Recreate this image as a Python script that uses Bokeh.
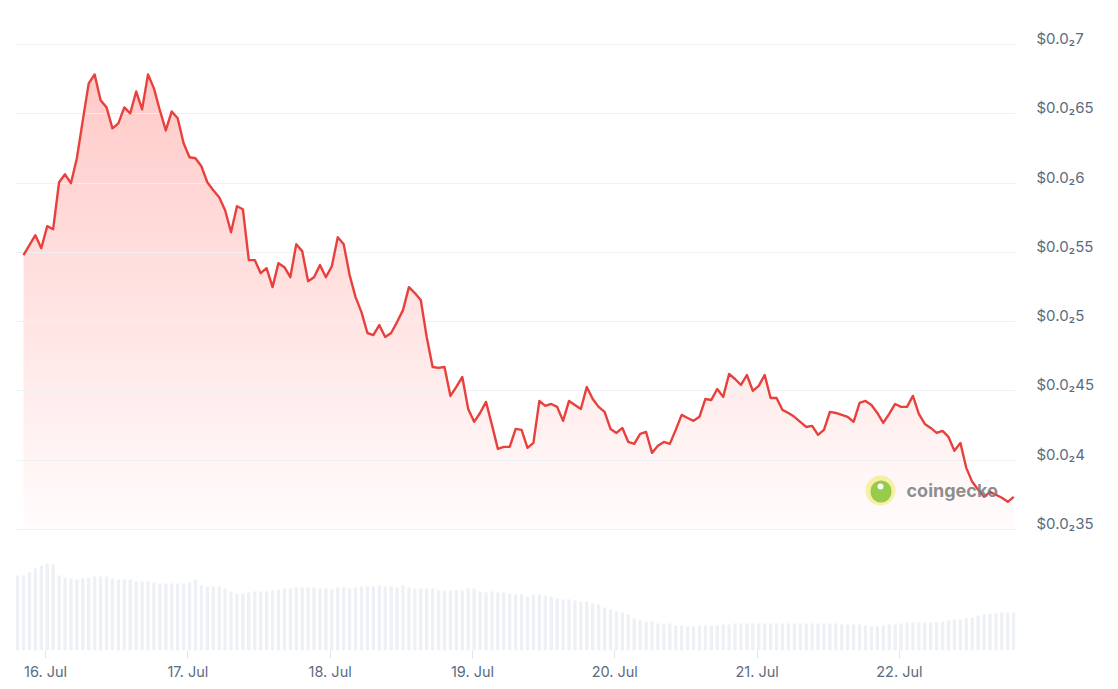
import numpy as np
from datetime import datetime
from bokeh.plotting import figure
from bokeh.models import Range1d, FixedTicker, Label, BoxAnnotation
from bokeh.embed import file_html
from bokeh.resources import INLINE

# ---------------- data ----------------
START = datetime(2024, 7, 15, 20, 17)   # first hourly price point

prices = [
    0.005480, 0.005552, 0.005624, 0.005530, 0.005689, 0.005667, 0.006006, 0.006063, 0.005999, 0.006179,
    0.006452, 0.006719, 0.006784, 0.006597, 0.006546, 0.006395, 0.006431, 0.006546, 0.006503, 0.006661,
    0.006532, 0.006784, 0.006683, 0.006524, 0.006380, 0.006517, 0.006467, 0.006287, 0.006186, 0.006179,
    0.006121, 0.006006, 0.005948, 0.005898, 0.005804, 0.005645, 0.005833, 0.005811, 0.005444, 0.005444,
    0.005350, 0.005386, 0.005249, 0.005422, 0.005393, 0.005321, 0.005559, 0.005509, 0.005292, 0.005321,
    0.005408, 0.005321, 0.005400, 0.005609, 0.005559, 0.005336, 0.005177, 0.005069, 0.004918, 0.004903,
    0.004975, 0.004889, 0.004918, 0.004997, 0.005083, 0.005249, 0.005206, 0.005156, 0.004889, 0.004673,
    0.004666, 0.004673, 0.004464, 0.004529, 0.004601, 0.004370, 0.004277, 0.004341, 0.004421, 0.004255,
    0.004082, 0.004096, 0.004096, 0.004226, 0.004219, 0.004089, 0.004125, 0.004428, 0.004392, 0.004406,
    0.004385, 0.004284, 0.004428, 0.004399, 0.004370, 0.004529, 0.004442, 0.004385, 0.004349, 0.004226,
    0.004197, 0.004233, 0.004132, 0.004118, 0.004190, 0.004204, 0.004053, 0.004104, 0.004132, 0.004118,
    0.004219, 0.004327, 0.004305, 0.004284, 0.004313, 0.004442, 0.004435, 0.004514, 0.004457, 0.004622,
    0.004586, 0.004543, 0.004615, 0.004500, 0.004536, 0.004615, 0.004449, 0.004449, 0.004363, 0.004341,
    0.004313, 0.004277, 0.004240, 0.004248, 0.004183, 0.004219, 0.004349, 0.004341, 0.004327, 0.004313,
    0.004277, 0.004413, 0.004428, 0.004399, 0.004341, 0.004269, 0.004334, 0.004406, 0.004385, 0.004385,
    0.004464, 0.004334, 0.004262, 0.004233, 0.004197, 0.004212, 0.004168, 0.004068, 0.004125, 0.003945,
    0.003844, 0.003787, 0.003736, 0.003772, 0.003751, 0.003729, 0.003700, 0.003736,
]

# hourly volume (relative units), first bar one hour before the first price point
volumes = [
    750, 750, 780, 820, 850, 870, 860, 750, 730, 720, 710,
    720, 730, 740, 740, 740, 720, 710, 710, 710, 690,
    690, 690, 680, 670, 670, 670, 670, 670, 680, 710,
    650, 640, 640, 640, 620, 590, 570, 570, 580, 590,
    590, 590, 600, 610, 620, 620, 630, 630, 630, 630,
    620, 620, 610, 630, 630, 620, 630, 640, 640, 640,
    650, 640, 640, 630, 650, 630, 620, 620, 620, 620,
    600, 600, 600, 600, 600, 620, 620, 590, 580, 590,
    580, 580, 570, 560, 560, 540, 560, 560, 550, 540,
    520, 510, 510, 500, 490, 490, 470, 460, 430, 410,
    390, 380, 360, 320, 300, 290, 290, 270, 260, 270,
    250, 250, 240, 240, 250, 250, 250, 250, 260, 260,
    270, 270, 270, 270, 270, 270, 270, 270, 270, 270,
    270, 270, 270, 270, 270, 270, 270, 270, 260, 260,
    260, 260, 250, 240, 240, 250, 260, 260, 270, 280,
    280, 280, 280, 280, 280, 290, 300, 310, 310, 320,
    330, 350, 360, 370, 370, 380, 380, 380,
]

x_tick_days = [datetime(2024, 7, d) for d in range(16, 23)]
x_tick_labels = ["16. Jul", "17. Jul", "18. Jul", "19. Jul", "20. Jul", "21. Jul", "22. Jul"]

y_ticks = [0.0035, 0.004, 0.0045, 0.005, 0.0055, 0.006, 0.0065, 0.007]
y_tick_labels = ["$0.0\u208235", "$0.0\u20824", "$0.0\u208245", "$0.0\u20825",
                 "$0.0\u208255", "$0.0\u20826", "$0.0\u208265", "$0.0\u20827"]

# ---------------- helpers ----------------
EPOCH = datetime(1970, 1, 1)
HOUR = 3600000.0


def ms(t):
    return (t - EPOCH).total_seconds() * 1000.0


t_price = [ms(START) + i * HOUR for i in range(len(prices))]
t_vol = [ms(START) + (i - 1) * HOUR for i in range(len(volumes))]

Y_MIN, Y_MAX = 0.002627, 0.007173
FRAME_H = 630
FONT = "Inter"
LABEL_COLOR = "#5c6b80"

p = figure(
    frame_width=1000, frame_height=FRAME_H,
    x_axis_type="datetime", y_axis_location="right",
    x_range=Range1d(ms(START) - 1.35 * HOUR, ms(START) + 167.3 * HOUR),
    y_range=Range1d(Y_MIN, Y_MAX),
    output_backend="svg", toolbar_location=None,
    min_border_left=15, min_border_top=20, min_border_right=5, min_border_bottom=4,
    background_fill_color="white", border_fill_color="white",
    outline_line_color=None,
)
# label range: same scale as the price range, shifted so labels sit ~6px above their gridlines
shift = 6 * (Y_MAX - Y_MIN) / FRAME_H
p.extra_y_ranges = {"vol": Range1d(0, 6300),
                    "lab": Range1d(Y_MIN - shift, Y_MAX - shift)}

# gradient fill under the line: gradient image, masked above the line with white
N = 300
alpha = np.linspace(0.015, 0.27, N)  # bottom -> top
img = np.zeros((N, 1), dtype=np.uint32)
view = img.view(dtype=np.uint8).reshape((N, 1, 4))
view[:, 0, 0] = 255
view[:, 0, 1] = np.round(255 - alpha * (255 - 58)).astype(np.uint8)
view[:, 0, 2] = np.round(255 - alpha * (255 - 51)).astype(np.uint8)
view[:, 0, 3] = 255
base = y_ticks[0]
p.image_rgba(image=[img], x=t_price[0], y=base, dw=t_price[-1] - t_price[0],
             dh=max(prices) - base, level="image")
mask_x = t_price + [t_price[-1], t_price[0]]
mask_y = prices + [Y_MAX, Y_MAX]
p.patch(mask_x, mask_y, fill_color="white", line_color="white", line_width=1.6,
        level="image")

# volume bars
p.vbar(x=t_vol, top=volumes, bottom=0, width=0.55 * HOUR, y_range_name="vol",
       fill_color="#edf0f4", line_color=None)

# price line
p.line(t_price, prices, line_color="#e8403c", line_width=2.4, line_join="round")

# grids
p.xgrid.visible = False
p.ygrid.ticker = FixedTicker(ticks=y_ticks)
p.ygrid.grid_line_color = "#eef1f4"
p.ygrid.grid_line_width = 1

# y axis (right), on the shifted label range
ya = p.yaxis[0]
ya.y_range_name = "lab"
ya.ticker = FixedTicker(ticks=y_ticks)
ya.major_label_overrides = dict(zip(y_ticks, y_tick_labels))
ya.axis_line_color = None
ya.major_tick_line_color = None
ya.minor_tick_line_color = None
ya.major_tick_in = 0
ya.major_tick_out = 0
ya.major_label_standoff = 21
ya.major_label_text_font = FONT
ya.major_label_text_font_size = "15px"
ya.major_label_text_color = LABEL_COLOR
ya.major_label_text_align = "left"

# x axis
xa = p.xaxis[0]
x_ticks = [ms(d) for d in x_tick_days]
xa.ticker = FixedTicker(ticks=x_ticks)
xa.major_label_overrides = dict(zip(x_ticks, x_tick_labels))
xa.axis_line_color = None
xa.major_tick_line_color = "#e2e5ea"
xa.minor_tick_line_color = None
xa.major_tick_in = 0
xa.major_tick_out = 8
xa.major_label_standoff = 4
xa.major_label_text_font = FONT
xa.major_label_text_font_size = "14.5px"
xa.major_label_text_color = LABEL_COLOR

# watermark (screen units, frame-relative)
p.add_layout(BoxAnnotation(left=850, right=880, bottom=145, top=175,
                           left_units="screen", right_units="screen",
                           bottom_units="screen", top_units="screen",
                           fill_color="#f6ec9e", fill_alpha=0.9, line_color=None,
                           border_radius=15))
p.add_layout(BoxAnnotation(left=855, right=876, bottom=148, top=170,
                           left_units="screen", right_units="screen",
                           bottom_units="screen", top_units="screen",
                           fill_color="#8cc63f", fill_alpha=0.9, line_color=None,
                           border_radius=11))
p.add_layout(BoxAnnotation(left=862, right=868, bottom=161, top=167,
                           left_units="screen", right_units="screen",
                           bottom_units="screen", top_units="screen",
                           fill_color="white", fill_alpha=0.95, line_color=None,
                           border_radius=3))
p.add_layout(Label(x=891, y=160, x_units="screen", y_units="screen",
                   text="coingecko", text_font=FONT, text_font_style="bold",
                   text_font_size="18px", text_color="#7a7a7a", text_alpha=0.85,
                   text_baseline="middle"))

open("out.html", "w").write(file_html(p, INLINE))
